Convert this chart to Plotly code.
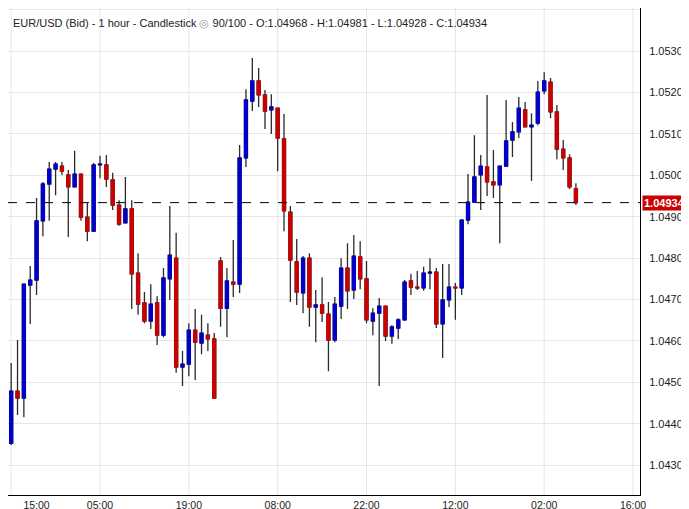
import plotly.graph_objects as go

opens = [1.04353,1.04479,1.04462,1.04735,1.04747,1.04890,1.04979,1.05015,1.05022,1.05001,
         1.04972,1.05003,1.04899,1.04865,1.05025,1.05025,1.04989,1.04928,1.04885,1.04919,
         1.04764,1.04692,1.04648,1.04692,1.04614,1.04750,1.04800,1.04537,1.04544,1.04626,
         1.04595,1.04614,1.04605,1.04793,1.04679,1.04742,1.04737,1.05042,1.05179,1.05228,
         1.05194,1.05158,1.05162,1.05088,1.04911,1.04791,1.04716,1.04800,1.04682,1.04687,
         1.04665,1.04602,1.04684,1.04776,1.04723,1.04803,1.04750,1.04648,1.04667,1.04684,
         1.04612,1.04631,1.04651,1.04745,1.04730,1.04728,1.04764,1.04766,1.04641,1.04699,
         1.04730,1.04728,1.04892,1.04935,1.05001,1.05020,1.04984,1.04977,1.05022,1.05085,
         1.05105,1.05158,1.05117,1.05126,1.05204,1.05225,1.05153,1.05063,1.05042,1.04968]
highs = [1.04547,1.04602,1.04737,1.04781,1.04945,1.04984,1.05032,1.05032,1.05032,1.05013,
         1.05059,1.05003,1.04933,1.05030,1.05047,1.05049,1.05006,1.04940,1.04996,1.04940,
         1.04812,1.04718,1.04737,1.04708,1.04776,1.04926,1.04861,1.04576,1.04643,1.04677,
         1.04663,1.04643,1.04619,1.04803,1.04776,1.04844,1.05073,1.05208,1.05283,1.05259,
         1.05206,1.05196,1.05162,1.05148,1.04926,1.04846,1.04805,1.04812,1.04723,1.04754,
         1.04694,1.04706,1.04800,1.04836,1.04856,1.04841,1.04793,1.04679,1.04704,1.04684,
         1.04638,1.04655,1.04747,1.04762,1.04769,1.04779,1.04800,1.04776,1.04786,1.04786,
         1.04740,1.04894,1.05003,1.05097,1.05049,1.05194,1.05061,1.05022,1.05182,1.05129,
         1.05189,1.05177,1.05150,1.05228,1.05249,1.05235,1.05170,1.05085,1.05051,1.04981]
lows = [1.04349,1.04421,1.04416,1.04641,1.04711,1.04853,1.04890,1.04952,1.05001,1.04851,
        1.04972,1.04890,1.04841,1.04863,1.04993,1.04972,1.04916,1.04878,1.04885,1.04677,
        1.04663,1.04643,1.04629,1.04590,1.04609,1.04699,1.04523,1.04491,1.04515,1.04506,
        1.04568,1.04576,1.04462,1.04634,1.04609,1.04706,1.04716,1.05020,1.05155,1.05165,
        1.05112,1.05100,1.05010,1.04865,1.04694,1.04687,1.04667,1.04634,1.04597,1.04646,
        1.04527,1.04597,1.04653,1.04677,1.04701,1.04725,1.04643,1.04614,1.04491,1.04600,
        1.04593,1.04605,1.04648,1.04711,1.04723,1.04721,1.04725,1.04631,1.04559,1.04682,
        1.04651,1.04711,1.04882,1.04933,1.04916,1.04950,1.04945,1.04836,1.05020,1.05044,
        1.05090,1.05117,1.04986,1.05121,1.05196,1.05138,1.05039,1.05013,1.04967,1.04928]
closes = [1.04479,1.04462,1.04737,1.04747,1.04890,1.04979,1.05015,1.05027,1.05010,1.04972,
          1.05003,1.04899,1.04865,1.05025,1.05027,1.04991,1.04928,1.04882,1.04919,1.04762,
          1.04689,1.04648,1.04689,1.04614,1.04752,1.04807,1.04537,1.04544,1.04626,1.04597,
          1.04619,1.04605,1.04462,1.04679,1.04745,1.04737,1.05042,1.05182,1.05228,1.05194,
          1.05155,1.05165,1.05090,1.04914,1.04795,1.04718,1.04800,1.04682,1.04687,1.04667,
          1.04602,1.04689,1.04776,1.04721,1.04805,1.04750,1.04651,1.04667,1.04684,1.04612,
          1.04634,1.04651,1.04742,1.04730,1.04728,1.04764,1.04766,1.04641,1.04699,1.04730,
          1.04728,1.04892,1.04935,1.04996,1.05022,1.04984,1.04977,1.05022,1.05083,1.05105,
          1.05162,1.05117,1.05121,1.05201,1.05228,1.05153,1.05063,1.05042,1.04972,1.04934]

tick_idx = [4, 14, 28, 42, 56, 70, 84, 98]
tick_text = ["15:00<br>Feb/20/25", "05:00<br>Feb/21/25", "19:00", "08:00<br>Feb/24/25",
             "22:00", "12:00<br>Feb/25/25", "02:00<br>Feb/26/25", "16:00"]
grid_idx = [0, 14, 28, 42, 56, 70, 84, 98]
y_ticks = [1.042, 1.043, 1.044, 1.045, 1.046, 1.047, 1.048, 1.049, 1.050, 1.051, 1.052, 1.053, 1.054]
last_close = closes[-1]

x = list(range(len(opens)))
body_hi = [max(o, c) for o, c in zip(opens, closes)]
body_lo = [min(o, c) for o, c in zip(opens, closes)]

fig = go.Figure()
fig.add_trace(go.Candlestick(
    x=x, open=opens, high=highs, low=lows, close=closes, whiskerwidth=0,
    increasing=dict(line=dict(color="#2b2b2b", width=1.3), fillcolor="#2b2b2b"),
    decreasing=dict(line=dict(color="#2b2b2b", width=1.3), fillcolor="#2b2b2b"),
    hoverinfo="skip"))
fig.add_trace(go.Candlestick(
    x=x, open=opens, high=body_hi, low=body_lo, close=closes, whiskerwidth=0,
    increasing=dict(line=dict(color="#0000CC", width=1), fillcolor="#0000CC"),
    decreasing=dict(line=dict(color="#CC0000", width=1), fillcolor="#CC0000")))

for g in grid_idx:
    fig.add_shape(type="line", xref="x", yref="paper", x0=g, x1=g, y0=0, y1=1,
                  line=dict(color="#e6e6e6", width=1), layer="below")

fig.add_shape(type="line", xref="paper", yref="y", x0=0, x1=1, y0=last_close, y1=last_close,
              line=dict(color="#000000", width=1, dash="dash"))

fig.add_annotation(xref="paper", yref="y", x=1.003, y=last_close, xanchor="left", yanchor="middle",
                   text="<b>%.5f</b>" % last_close, showarrow=False,
                   font=dict(color="white", size=11, family="Liberation Sans, Arial"),
                   bgcolor="#CC0000", borderpad=1)

fig.add_annotation(xref="paper", yref="paper", x=0.005, y=0.985, xanchor="left", yanchor="top",
                   showarrow=False, align="left",
                   text="EUR/USD (Bid) - 1 hour - Candlestick <span style='color:#999'>◎</span> 90/100 - O:%.5f - H:%.5f - L:%.5f - C:%.5f"
                        % (opens[-1], highs[-1], lows[-1], closes[-1]),
                   font=dict(color="#222", size=11, family="Liberation Sans, Arial"))

fig.update_layout(
    width=689, height=509,
    margin=dict(l=0, r=57, t=0, b=22, autoexpand=False),
    paper_bgcolor="white", plot_bgcolor="white",
    showlegend=False,
    font=dict(family="Liberation Sans, Arial", size=11, color="#222"),
    xaxis=dict(range=[-0.5, 99.1], tickvals=tick_idx, ticktext=tick_text, showgrid=False,
               rangeslider=dict(visible=False), showline=True, linecolor="black", linewidth=1,
               ticks="", zeroline=False, tickfont=dict(size=10.5), ticklabelstandoff=0,
               automargin=False),
    yaxis=dict(range=[1.04228, 1.05404], side="right", tickvals=y_ticks, tickformat=".5f",
               showgrid=True, gridcolor="#e6e6e6", showline=True, linecolor="black", linewidth=1,
               ticks="", zeroline=False, tickfont=dict(size=11), ticklabelstandoff=6,
               automargin=False),
)

fig.write_html("out.html")
